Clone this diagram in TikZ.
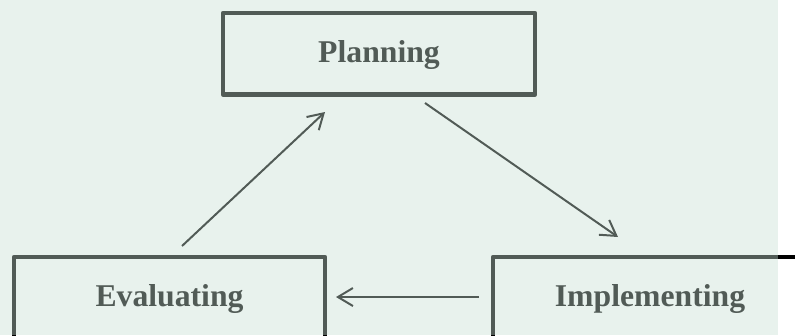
\documentclass[tikz,border=0pt]{standalone}
\usepackage{fontspec}
\setmainfont{Liberation Serif}
\usetikzlibrary{arrows.meta,calc}
% pale green wash laid over the drawing
\definecolor{wash}{RGB}{201,225,213}
\begin{document}
\begin{tikzpicture}[x=1pt,y=-1pt,
  stage/.style={draw=black, line width=4.5pt, line join=round,
    minimum width=#1, minimum height=81.5pt, inner sep=0pt, outer sep=0pt},
  stagetext/.style={anchor=base, inner sep=0pt, yshift=-1.25pt,
    font=\bfseries\fontsize{31.7pt}{36pt}\selectfont},
  flow/.style={draw=black, line width=2pt,
    -{Straight Barb[length=15pt,width=18pt]}}]
\useasboundingbox (0,0) rectangle (795,335);
\clip (0,0) rectangle (795,335);
\fill[white] (0,0) rectangle (795,335);

% the three stages of the cycle
\node[stage=312pt, label={[name=plantext, stagetext]center:Planning}] (plan) at (379,53.75) {};
\node[stage=311pt, label={[name=evaltext, stagetext]center:Evaluating}] (eval) at (169.5,297.75) {};
\node[stage=314pt, label={[name=impltext, stagetext]center:Implementing}] (impl) at (650,297.75) {};

% cycle connectors
\draw[flow] ($(plan.south)+(46,8.5)$) -- ($(impl.north)+(-32,-20)$);
\draw[flow] ($(impl.west)+(-14,-0.75)$) -- ($(eval.east)+(11,-0.75)$);
\draw[flow] ($(eval.north)+(12.5,-11)$) -- ($(plan.south)+(-54,17.5)$);

% translucent wash over most of the page
\fill[wash, fill opacity=0.408] (0,0) rectangle (778,335);
\end{tikzpicture}
\end{document}
